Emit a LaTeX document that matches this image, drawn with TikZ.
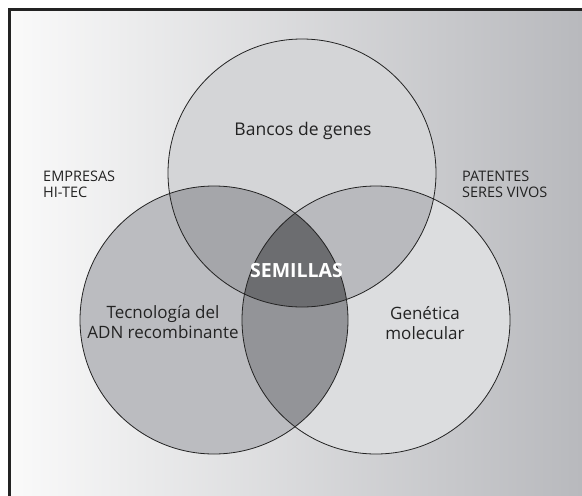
\documentclass[tikz,border=0pt]{standalone}
\usepackage{fontspec}
\setmainfont{Open Sans}

\definecolor{bgleft}{RGB}{250,250,250}
\definecolor{bgright}{RGB}{184,185,189}
\definecolor{cTop}{RGB}{212,213,215}
\definecolor{cLeft}{RGB}{187,188,192}
\definecolor{cRight}{RGB}{220,221,223}
\definecolor{cTL}{RGB}{165,166,170}
\definecolor{cTR}{RGB}{185,186,190}
\definecolor{cLR}{RGB}{147,148,152}
\definecolor{cAll}{RGB}{108,109,112}
\definecolor{ink}{RGB}{35,35,35}

\begin{document}
\begin{tikzpicture}[x=1pt,y=-1pt,
	lbl/.style={text=ink,inner sep=0pt,align=center,font=\fontsize{17}{20}\selectfont},
	side/.style={text=ink,inner sep=0pt,align=left,anchor=north west,font=\fontsize{14.5}{16}\selectfont}]
\useasboundingbox (0,0) rectangle (582,496);

\def\r{134pt}

\coordinate (T) at (302,173);
\coordinate (L) at (214,320);
\coordinate (R) at (376,320);

\coordinate (F0) at (9.5,9.5);
\coordinate (F1) at (582,496);

\shade[left color=bgleft,right color=bgright] (F0) rectangle (F1);
\draw[line width=2.6pt,ink] (F0 |- F1) -- (F0) -- (F1 |- F0);

\fill[cTop] (T) circle (\r);
\fill[cLeft] (L) circle (\r);
\fill[cRight] (R) circle (\r);

\begin{scope}
	\clip (T) circle (\r);
	\fill[cTL] (L) circle (\r);
	\fill[cTR] (R) circle (\r);
\end{scope}
\begin{scope}
	\clip (L) circle (\r);
	\fill[cLR] (R) circle (\r);
	\clip (R) circle (\r);
	\fill[cAll] (T) circle (\r);
\end{scope}

\foreach \c in {T,L,R} {
	\draw[line width=0.8pt,ink] (\c) circle (\r);
}

\node (bancos) at (303,135) [lbl,anchor=base,font=\fontsize{17.5}{20}\selectfont] {Bancos de genes};
\node (tecno) at (163,322) [lbl] {Tecnología del\\ADN recombinante};
\node (genetica) at (425,323) [lbl] {Genética\\molecular};
\node (semillas) at (296.5,277) [anchor=base,inner sep=0pt,text=white,font=\fontsize{19.5}{20}\selectfont\bfseries] {SEMILLAS};

\node (empresas) at (43,171) [side] {EMPRESAS\\HI-TEC};
\node (patentes) at (462,171) [side] {PATENTES\\SERES VIVOS};

\end{tikzpicture}
\end{document}
